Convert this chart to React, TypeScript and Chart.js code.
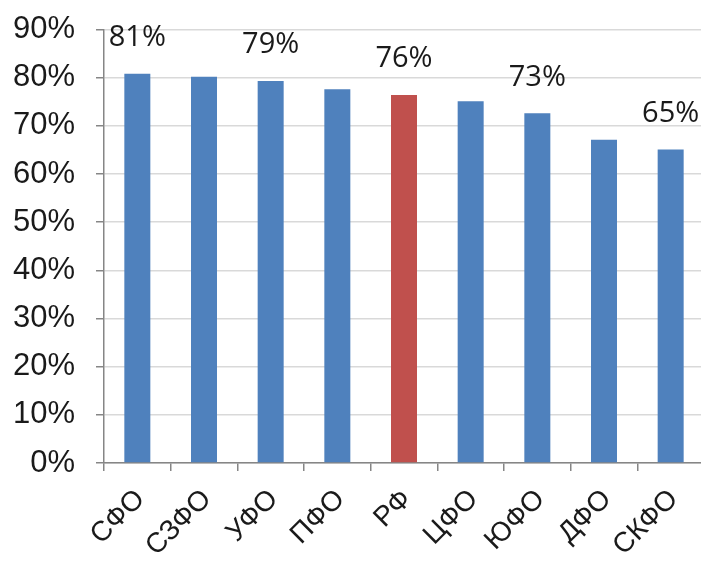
import React, { useEffect, useRef } from "react";
import { Chart, registerables } from "chart.js";

Chart.register(...registerables);

const categories = ["СФО", "СЗФО", "УФО", "ПФО", "РФ", "ЦФО", "ЮФО", "ДФО", "СКФО"];
const values = [80.8, 80.2, 79.3, 77.6, 76.4, 75.1, 72.6, 67.1, 65.1];
const valueLabels = ["81%", "", "79%", "", "76%", "", "73%", "", "65%"];
const barColors = ["#4F81BD", "#4F81BD", "#4F81BD", "#4F81BD", "#C0504D", "#4F81BD", "#4F81BD", "#4F81BD", "#4F81BD"];
const yTicks = [0, 10, 20, 30, 40, 50, 60, 70, 80, 90];

const labelPlugin = {
  id: "valueLabels",
  afterDatasetsDraw(chart: any) {
    const ctx = chart.ctx;
    const meta = chart.getDatasetMeta(0);
    ctx.save();
    ctx.font = "29px 'Open Sans'";
    ctx.fillStyle = "#1a1a1a";
    ctx.textAlign = "center";
    ctx.textBaseline = "middle";
    meta.data.forEach((bar: any, i: number) => {
      const t = valueLabels[i];
      if (t) ctx.fillText(t, bar.x, bar.y - 36);
    });
    ctx.restore();
  },
};

export default function App() {
  const ref = useRef<HTMLCanvasElement>(null);
  useEffect(() => {
    if (!ref.current) return;
    const chart = new Chart(ref.current, {
      type: "bar",
      data: {
        labels: categories,
        datasets: [
          {
            data: values,
            backgroundColor: barColors,
            barPercentage: 0.39,
            categoryPercentage: 1,
          },
        ],
      },
      options: {
        responsive: false,
        animation: false,
        devicePixelRatio: 1,
        layout: { padding: { top: 29.5, left: 0, right: 0, bottom: 0 } },
        plugins: { legend: { display: false }, tooltip: { enabled: false } },
        scales: {
          y: {
            min: 0,
            max: 90,
            afterBuildTicks: (s: any) => {
              s.ticks = yTicks.map((v) => ({ value: v }));
            },
            afterFit: (s: any) => {
              s.width = 104;
              s.paddingTop = 0;
              s.paddingBottom = 0;
            },
            ticks: {
              callback: (v: any) => v + "%",
              font: { family: "'Liberation Sans'", size: 31 },
              color: "#1a1a1a",
              padding: 21,
            },
            grid: { color: "#d9d9d9", lineWidth: 1.5, tickLength: 8, tickColor: "#868686" },
            border: { color: "#868686", width: 1.5 },
          },
          x: {
            afterFit: (s: any) => {
              s.height = 102;
              s.paddingLeft = 0;
              s.paddingRight = 0;
            },
            ticks: {
              minRotation: 45,
              maxRotation: 45,
              font: { family: "'Liberation Sans'", size: 28 },
              color: "#1a1a1a",
              padding: 12,
              labelOffset: 3,
            },
            grid: { drawOnChartArea: false, tickLength: 8, color: "#868686", lineWidth: 1.5, offset: true },
            border: { color: "#868686", width: 1.5 },
          },
        },
      },
      plugins: [labelPlugin],
    });
    return () => chart.destroy();
  }, []);
  return (
    <div style={{ position: "absolute", left: 0, top: 0, width: 701, height: 565, overflow: "hidden", background: "#fff" }}>
      <canvas ref={ref} width={704} height={565} style={{ width: 704, height: 565 }} />
    </div>
  );
}
